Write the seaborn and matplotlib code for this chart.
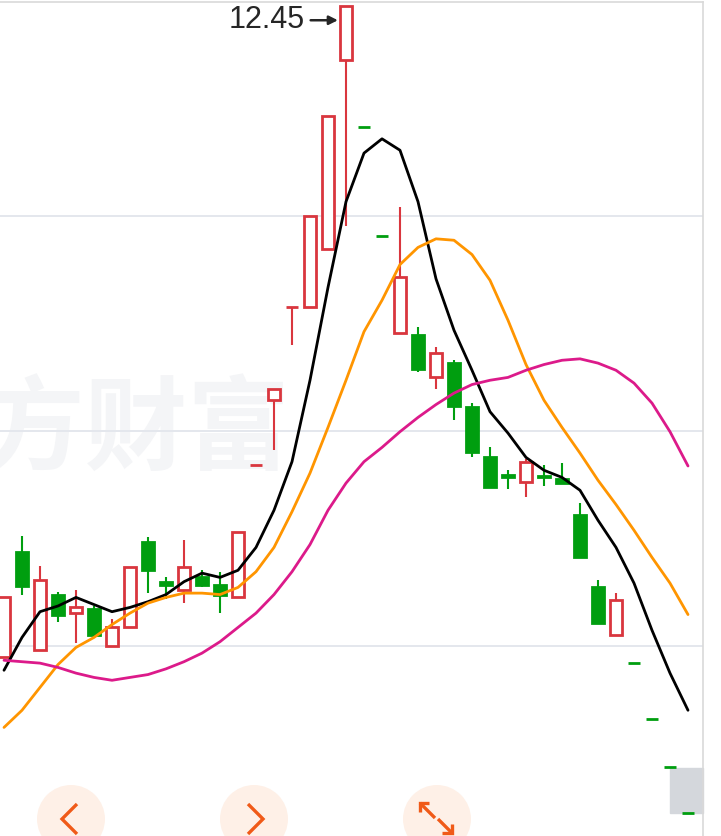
import matplotlib
matplotlib.use("Agg")
import matplotlib.pyplot as plt
from matplotlib.patches import Circle, Rectangle
import seaborn as sns
import pandas as pd

# daily candles (price units)
opens = [7.89, 8.63, 7.94, 8.33, 8.20, 8.23, 7.97, 8.10, 8.70, 8.42,
         8.36, 8.45, 8.40, 8.31, 9.24, 9.69, 10.34, 10.34, 10.75, 12.07,
         11.60, 10.84, 10.16, 10.15, 9.85, 9.95, 9.64, 9.29, 9.17, 9.12,
         9.16, 9.14, 8.89, 8.38, 8.05, 7.85, 7.46, 7.12, 6.80]
closes = [8.31, 8.39, 8.43, 8.19, 8.24, 8.05, 8.10, 8.52, 8.50, 8.40,
          8.52, 8.40, 8.33, 8.77, 9.24, 9.77, 10.34, 10.98, 11.68, 12.45,
          11.60, 10.84, 10.55, 9.91, 10.02, 9.65, 9.33, 9.08, 9.15, 9.26,
          9.15, 9.11, 8.59, 8.13, 8.29, 7.85, 7.46, 7.12, 6.80]
highs = [8.31, 8.74, 8.53, 8.35, 8.36, 8.25, 8.16, 8.52, 8.73, 8.45,
         8.71, 8.50, 8.49, 8.77, 9.24, 9.77, 10.34, 10.98, 11.68, 12.45,
         11.60, 10.84, 11.04, 10.20, 10.06, 9.97, 9.67, 9.36, 9.20, 9.28,
         9.24, 9.25, 8.97, 8.43, 8.34, 7.85, 7.46, 7.12, 6.80]
lows = [7.89, 8.33, 7.94, 8.14, 7.99, 8.05, 7.97, 8.10, 8.34, 8.30,
        8.27, 8.38, 8.20, 8.31, 9.24, 9.34, 10.08, 10.34, 10.75, 10.91,
        11.60, 10.84, 10.16, 9.89, 9.77, 9.55, 9.29, 9.08, 9.07, 9.01,
        9.09, 9.11, 8.59, 8.13, 8.05, 7.85, 7.46, 7.12, 6.80]

# moving averages as drawn
ma5 = [7.80, 8.03, 8.21, 8.25, 8.31, 8.26, 8.21, 8.24, 8.28, 8.33,
       8.42, 8.48, 8.45, 8.50, 8.66, 8.92, 9.26, 9.83, 10.48, 11.08,
       11.42, 11.52, 11.44, 11.08, 10.54, 10.18, 9.90, 9.61, 9.46, 9.29,
       9.20, 9.15, 9.06, 8.85, 8.66, 8.41, 8.08, 7.78, 7.52]
ma10 = [7.40, 7.52, 7.68, 7.84, 7.96, 8.03, 8.12, 8.20, 8.27, 8.31,
        8.34, 8.34, 8.33, 8.38, 8.49, 8.66, 8.91, 9.18, 9.50, 9.83,
        10.17, 10.39, 10.64, 10.76, 10.82, 10.81, 10.71, 10.53, 10.25, 9.94,
        9.69, 9.50, 9.32, 9.13, 8.96, 8.78, 8.59, 8.41, 8.19]
ma20 = [7.87, 7.86, 7.85, 7.82, 7.78, 7.75, 7.73, 7.75, 7.77, 7.81,
        7.86, 7.92, 8.00, 8.10, 8.20, 8.33, 8.49, 8.68, 8.92, 9.11,
        9.26, 9.36, 9.47, 9.57, 9.66, 9.74, 9.80, 9.83, 9.85, 9.90,
        9.94, 9.97, 9.98, 9.95, 9.90, 9.81, 9.67, 9.47, 9.23]

grid_levels = [7.97, 9.475, 10.98]

UP = "#d9363e"
DOWN = "#009e0f"

df = pd.DataFrame({"day": range(len(opens)), "open": opens, "high": highs,
                   "low": lows, "close": closes,
                   "ma5": ma5, "ma10": ma10, "ma20": ma20})
prev = df["close"].shift(1).fillna(df["open"])
df["up"] = (df["close"] > df["open"]) | ((df["close"] == df["open"]) & (df["close"] >= prev))

sns.set_style("white")
plt.rcParams["font.family"] = ["Liberation Sans", "DejaVu Sans"]

fig = plt.figure(figsize=(7.21, 8.36), dpi=100)

# background layer (watermark, price tag) in pixel coords
ax_bg = fig.add_axes([0, 0, 1, 1], zorder=0)
ax_bg.set_xlim(0, 721)
ax_bg.set_ylim(836, 0)
ax_bg.axis("off")
ax_bg.text(290, 432, "东方财富", ha="right", va="center", fontsize=74,
           fontweight="bold", color="#f4f5f7",
           family=["Noto Sans CJK SC", "DejaVu Sans"])
ax_bg.add_patch(Rectangle((670, 768), 33, 45, color="#d4d7dc"))

# main chart
ax = fig.add_axes([0, 0, 703 / 721, 0.998], zorder=1)
ax.patch.set_alpha(0)
ax.set_xlim(-0.222, 38.833)
ax.set_ylim(6.64, 12.48)

for lv in grid_levels:
    ax.axhline(lv, color="#e4e7ed", lw=1.4, zorder=0.5)

colors = [UP if u else DOWN for u in df["up"]]
faces = ["white" if u else DOWN for u in df["up"]]
body_lo = df[["open", "close"]].min(axis=1)
body_h = (df["close"] - df["open"]).abs()

ax.vlines(df["day"], df["low"], df["high"], colors=colors, lw=1.5, zorder=2)
ax.bar(df["day"], body_h, bottom=body_lo, width=0.68, color=faces,
       edgecolor=colors, linewidth=2.0, zorder=3)

sns.lineplot(data=df, x="day", y="ma5", color="black", lw=2.0, ax=ax, zorder=4)
sns.lineplot(data=df, x="day", y="ma10", color="#ff9500", lw=2.0, ax=ax, zorder=4)
sns.lineplot(data=df, x="day", y="ma20", color="#dc1a8a", lw=2.0, ax=ax, zorder=4)

top_i = int(df["high"].idxmax())
top_v = df["high"].max()
ax.annotate(f"{top_v:.2f}", xy=(top_i - 0.45, top_v - 0.1),
            xytext=(top_i - 2.3, top_v - 0.1), ha="right", va="center",
            fontsize=22, color="#262626",
            arrowprops=dict(arrowstyle="-|>", color="#262626", lw=1.8,
                            shrinkA=2, shrinkB=0, mutation_scale=13))

ax.set_xlabel("")
ax.set_ylabel("")
ax.set_xticks([])
ax.set_yticks([])
for s in ["left", "bottom"]:
    ax.spines[s].set_visible(False)
for s in ["top", "right"]:
    ax.spines[s].set_color("#d9d9d9")
    ax.spines[s].set_linewidth(1.2)

# bottom navigation buttons
ax_ui = fig.add_axes([0, 0, 1, 1], zorder=3)
ax_ui.patch.set_alpha(0)
ax_ui.set_xlim(0, 721)
ax_ui.set_ylim(836, 0)
ax_ui.axis("off")
btn = "#f05a18"
for cx in [71, 254, 437]:
    ax_ui.add_patch(Circle((cx, 819), 34, color="#fef0e7", lw=0))
kw = dict(color=btn, lw=2.4, solid_capstyle="butt", solid_joinstyle="miter")
ax_ui.plot([77, 62, 77], [804, 819, 834], **kw)
ax_ui.plot([248, 263, 248], [804, 819, 834], **kw)
ax_ui.plot([429, 420, 420], [803, 803, 812], **kw)
ax_ui.plot([420, 435], [803, 818], **kw)
ax_ui.plot([442, 452, 452], [833, 833, 824], **kw)
ax_ui.plot([452, 438], [833, 819], **kw)

fig.savefig("out.png", dpi=100)
